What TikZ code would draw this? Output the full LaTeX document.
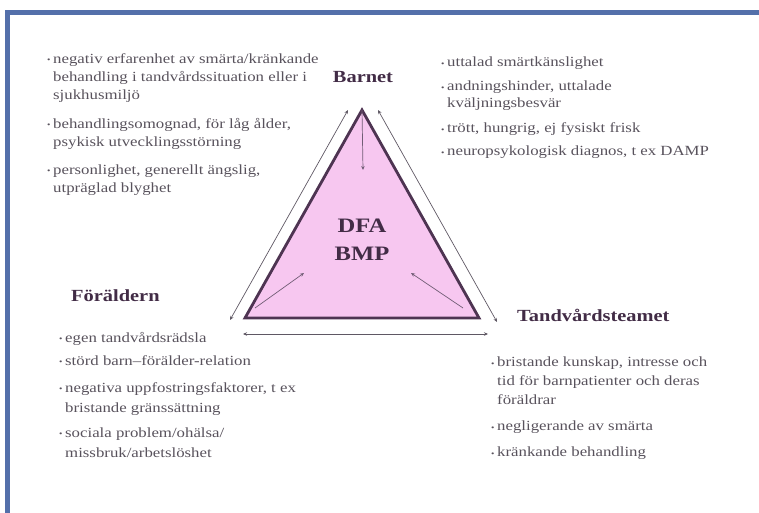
\documentclass[tikz,border=0pt]{standalone}
\usepackage{fontspec}
\setmainfont{Liberation Serif}[FakeStretch=1.2]
\usetikzlibrary{arrows.meta,positioning}
\definecolor{ramblue}{RGB}{84,112,170}
\definecolor{triangelrosa}{RGB}{247,199,240}
\definecolor{kantlila}{RGB}{78,52,82}
\definecolor{pilgra}{RGB}{95,88,100}
\definecolor{textgra}{RGB}{88,82,92}
\newcommand{\punkt}{\makebox[6pt][l]{\raisebox{0.8pt}{\fontsize{8}{8}\selectfont\textbullet}}}
\newcommand{\vidare}{\hspace*{6pt}}

\begin{document}
\begin{tikzpicture}[x=1pt, y=-1pt,
    every node/.style={inner sep=0pt, text=textgra},
    lista/.style={anchor=north west, align=left, font=\fontsize{14}{18}\selectfont},
    rubrik/.style={font=\fontsize{17}{18}\selectfont\bfseries, text=kantlila!85!black},
    triangel/.style={draw=kantlila, line width=2.8pt, fill=triangelrosa, line join=miter},
    inpil/.style={draw=kantlila!80, line width=0.7pt, -{Stealth[length=4pt,width=3.5pt]}},
    utpil/.style={draw=pilgra, line width=0.7pt, {Stealth[length=4pt,width=3.5pt]}-{Stealth[length=4pt,width=3.5pt]}}]
  \useasboundingbox (0,0) rectangle (759,513);

  % Blue frame
  \fill[ramblue] (5,10) rectangle (759,15);
  \fill[ramblue] (5,10) rectangle (10,513);

  % Triangle corners
  \coordinate (topp) at (362,110);
  \coordinate (vanster) at (245,318);
  \coordinate (hoger) at (479,318);
  \draw[triangel] (topp) -- (vanster) -- (hoger) -- cycle;

  % Inner arrows
  \coordinate (topp-in) at (363,170);
  \coordinate (vanster-ut) at (255,308);
  \coordinate (vanster-in) at (304,273);
  \coordinate (hoger-ut) at (463,308);
  \coordinate (hoger-in) at (411,273);
  \draw[inpil] (topp) -- (topp-in);
  \draw[inpil] (vanster-ut) -- (vanster-in);
  \draw[inpil] (hoger-ut) -- (hoger-in);

  % Outer arrows
  \coordinate (v1) at (230,320);
  \coordinate (v2) at (348,110);
  \coordinate (h1) at (378,110);
  \coordinate (h2) at (497,322);
  \coordinate (b1) at (243,334);
  \coordinate (b2) at (488,334);
  \draw[utpil] (v1) -- (v2);
  \draw[utpil] (h1) -- (h2);
  \draw[utpil] (b1) -- (b2);

  % Centre text
  \node[font=\fontsize{20.5}{28.5}\selectfont\bfseries, text=kantlila!85!black, align=center] (dfa) at (362,240) {DFA\\BMP};

  % Labels
  \node[rubrik, anchor=base] (barnet) at (363,83) {Barnet};
  \node[rubrik, anchor=base west] (foraldern) at (71,301) {Föräldern};
  \node[rubrik, anchor=base west] (tandvard) at (517,321) {Tandvårdsteamet};

  % Lists
  \node[lista] (barnet-vanster) at (47,53) {%
    \punkt negativ erfarenhet av smärta/kränkande\\
    \vidare behandling i tandvårdssituation eller i\\
    \vidare sjukhusmiljö\\[11pt]
    \punkt behandlingsomognad, för låg ålder,\\
    \vidare psykisk utvecklingsstörning\\[10pt]
    \punkt personlighet, generellt ängslig,\\
    \vidare utpräglad blyghet};
  \node[lista, font=\fontsize{14}{17}\selectfont] (barnet-hoger) at (441,57) {%
    \punkt uttalad smärtkänslighet\\[7pt]
    \punkt andningshinder, uttalade\\
    \vidare kväljningsbesvär\\[8pt]
    \punkt trött, hungrig, ej fysiskt frisk\\[6pt]
    \punkt neuropsykologisk diagnos, t ex DAMP};
  \node[lista, font=\fontsize{14}{20}\selectfont] (foraldern-lista) at (59,332) {%
    \punkt egen tandvårdsrädsla\\[3pt]
    \punkt störd barn--förälder-relation\\[7pt]
    \punkt negativa uppfostringsfaktorer, t ex\\
    \vidare bristande gränssättning\\[5pt]
    \punkt sociala problem/ohälsa/\\
    \vidare missbruk/arbetslöshet};
  \node[lista, font=\fontsize{14}{19}\selectfont] (tandvard-lista) at (491,357) {%
    \punkt bristande kunskap, intresse och\\
    \vidare tid för barnpatienter och deras\\
    \vidare föräldrar\\[7pt]
    \punkt negligerande av smärta\\[7pt]
    \punkt kränkande behandling};
\end{tikzpicture}
\end{document}
